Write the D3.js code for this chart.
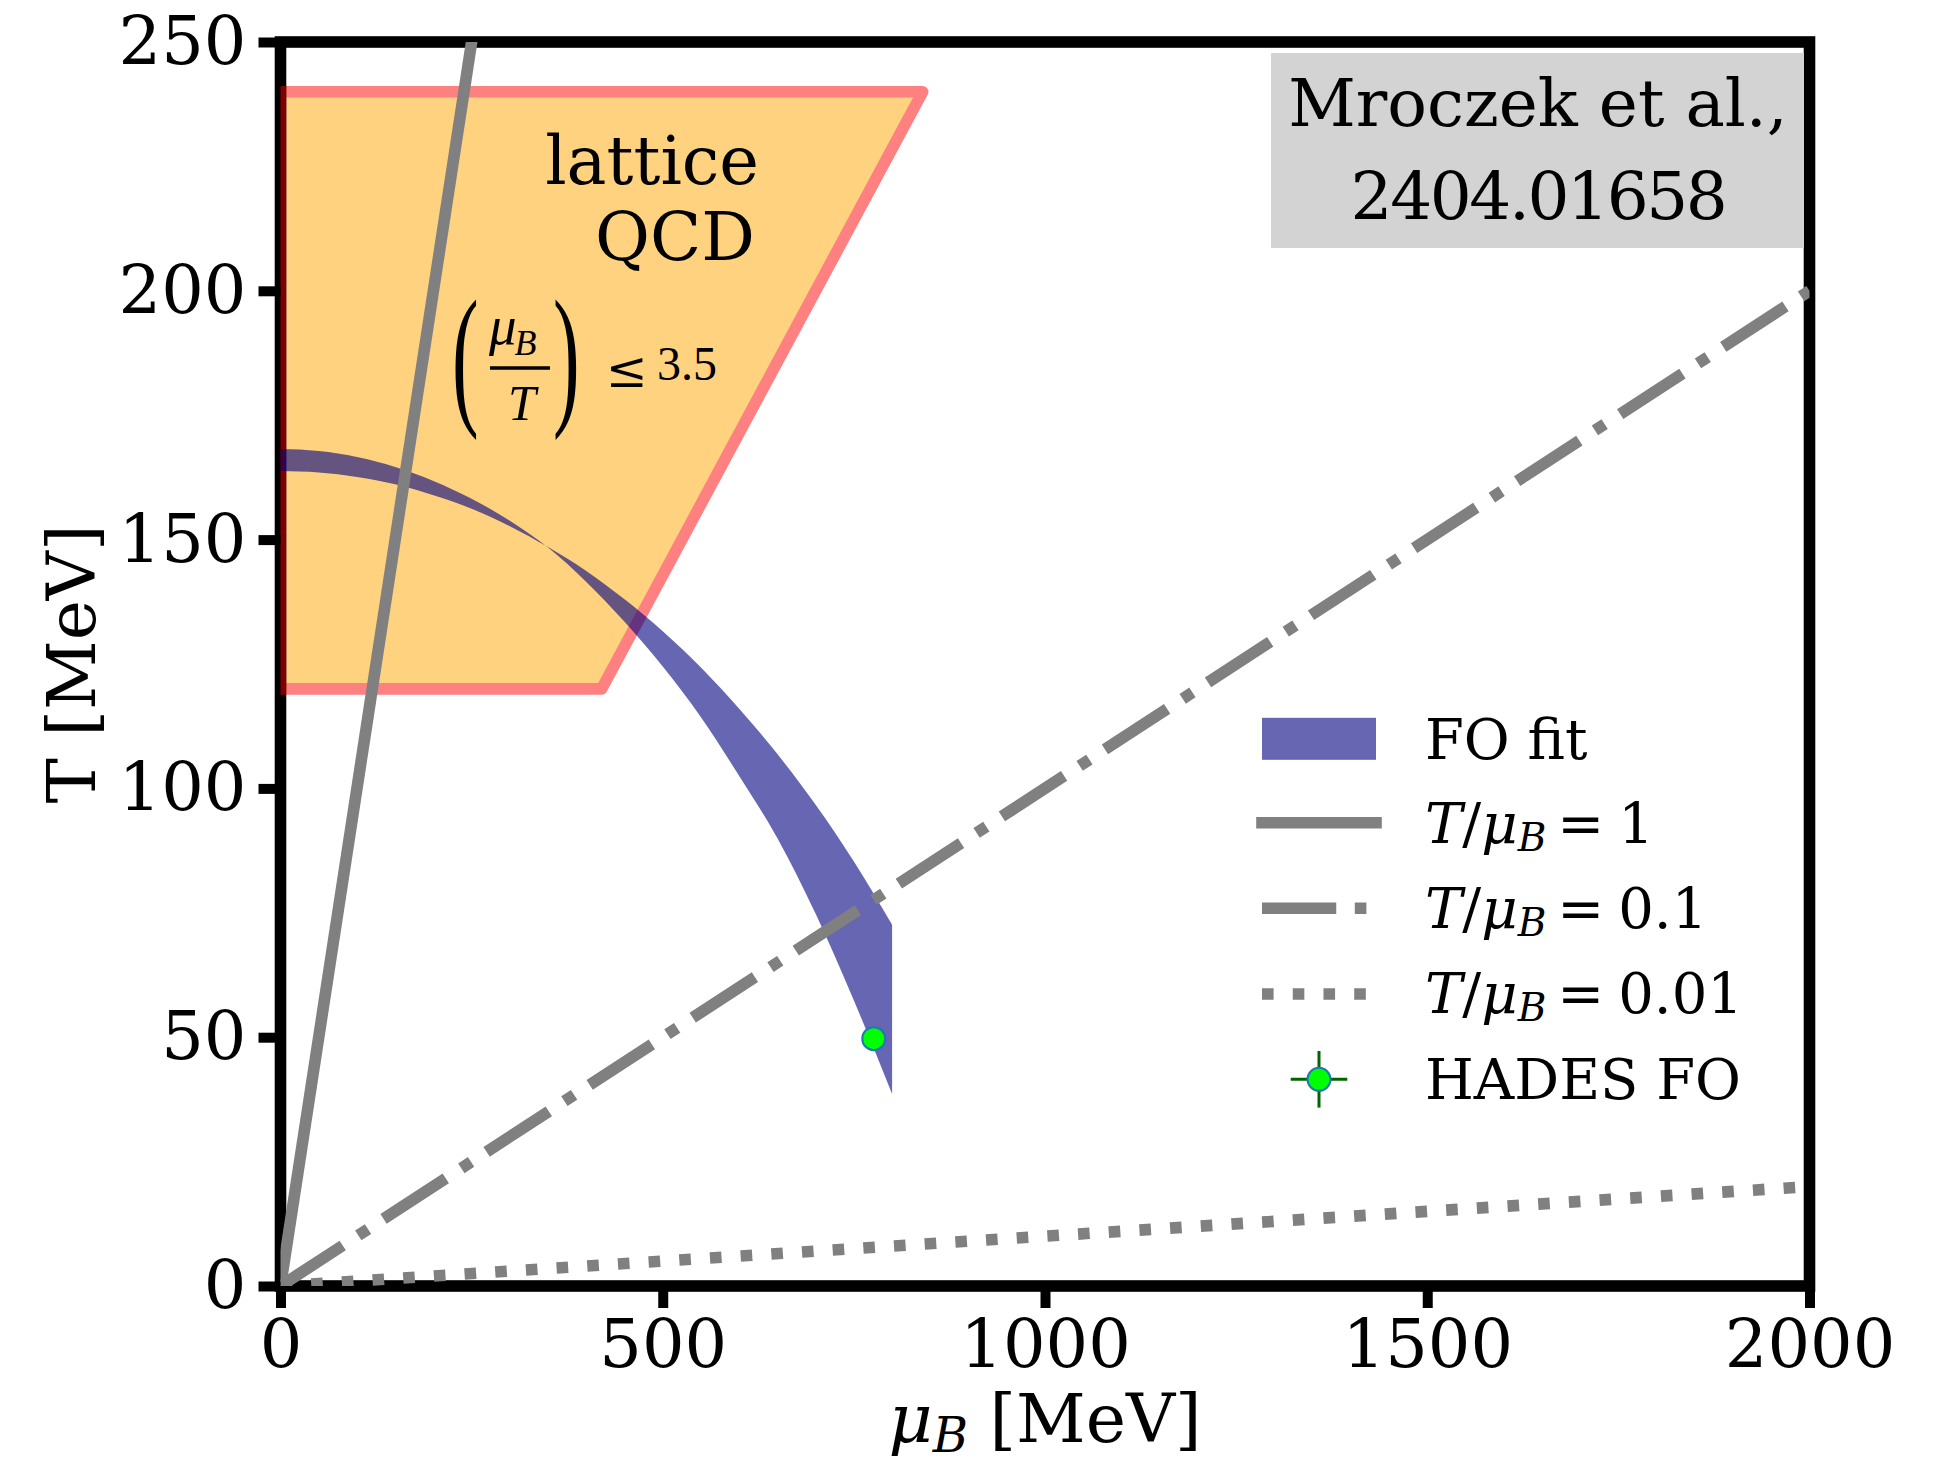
<!DOCTYPE html>
<html>
<head>
<meta charset="utf-8">
<script src="https://cdn.jsdelivr.net/npm/d3@7"></script>
<style>
  body { margin: 0; background: #fff; }
  svg { display: block; }
</style>
</head>
<body>
<script>
// ---- data ----------------------------------------------------------
const xTicks = [0, 500, 1000, 1500, 2000];
const yTicks = [0, 50, 100, 150, 200, 250];

// lattice QCD reach, mu_B/T <= 3.5 for 120 < T < 240 MeV
const latticeMu = [0, 420, 840, 0];
const latticeT  = [120, 120, 240, 240];

// chemical freeze-out fit band: two edge curves on a common mu_B grid
const fitMu    = [0, 50, 100, 150, 200, 250, 300, 350, 400, 450, 500, 550, 600, 650, 700, 750, 800];
const fitEdgeA = [168.2, 167.8, 166.6, 164.6, 161.8, 158.2, 153.8, 148.4, 141.5, 133.5, 124.5, 114.3, 102.5, 90.0, 74.8, 57.4, 38.6];
const fitEdgeB = [163.8, 163.5, 162.6, 161.1, 158.9, 156.2, 152.7, 148.5, 143.7, 138.0, 131.6, 124.3, 116.0, 106.9, 96.7, 85.3, 72.6];

// constant T/mu_B reference lines
const ratioValues = [1, 0.1, 0.01];
const ratioLabels = ["1", "0.1", "0.01"];
const ratioMuRange = [0, 2000];

// HADES freeze-out point
const hadesMu = [776];
const hadesT = [49.7];
const hadesMuErr = [3];
const hadesTErr = [1.1];

// ---- layout --------------------------------------------------------
const W = 1946, H = 1458;
const plotL = 280.5, plotR = 1809.5, plotT = 42, plotB = 1286;
const LW = 11.6;
const gray = "#808080";
const serif = "'DejaVu Serif', serif";
const times = "'Liberation Serif', 'Times New Roman', serif";

const x = d3.scaleLinear().domain([0, 2000]).range([plotL, plotR]);
const y = d3.scaleLinear().domain([0, 250]).range([plotB, plotT]);

const svg = d3.select("body").append("svg")
  .attr("width", W).attr("height", H)
  .attr("viewBox", `0 0 ${W} ${H}`);

svg.append("rect").attr("width", W).attr("height", H).attr("fill", "#fff");

const defs = svg.append("defs");
defs.append("clipPath").attr("id", "plotClip")
  .append("rect").attr("x", plotL).attr("y", plotT)
  .attr("width", plotR - plotL).attr("height", plotB - plotT);
defs.append("clipPath").attr("id", "spineClip")
  .append("rect").attr("x", plotL).attr("y", plotT)
  .attr("width", LW / 2).attr("height", plotB - plotT);

const under = svg.append("g").attr("clip-path", "url(#plotClip)");
const latticePts = latticeMu.map((m, i) => [x(m), y(latticeT[i])]);
const latticeStr = latticePts.map(p => p.join(",")).join(" ");

// lattice region
under.append("polygon")
  .attr("points", latticeStr)
  .attr("fill", "#ffd280")
  .attr("stroke", "#ff8080")
  .attr("stroke-width", LW)
  .attr("stroke-linejoin", "round");

// frame
svg.append("rect")
  .attr("x", plotL).attr("y", plotT)
  .attr("width", plotR - plotL).attr("height", plotB - plotT)
  .attr("fill", "none").attr("stroke", "#000")
  .attr("stroke-width", LW).attr("stroke-linejoin", "miter");

// lattice outline where it runs over the left spine
svg.append("g").attr("clip-path", "url(#spineClip)")
  .append("polygon")
  .attr("points", latticeStr)
  .attr("fill", "none")
  .attr("stroke", "rgba(255,0,0,0.5)")
  .attr("stroke-width", LW)
  .attr("stroke-linejoin", "round");

const over = svg.append("g").attr("clip-path", "url(#plotClip)");

// label box
svg.append("rect")
  .attr("x", 1271).attr("y", 53).attr("width", 533).attr("height", 195)
  .attr("fill", "#d3d3d3");
const box = svg.append("text")
  .attr("font-family", serif).attr("font-size", 66)
  .attr("text-anchor", "middle").attr("fill", "#000");
box.append("tspan").attr("x", 1538).attr("y", 126).text("Mroczek et al.,");
box.append("tspan").attr("x", 1538).attr("y", 219).attr("letter-spacing", -2.4).text("2404.01658");

// freeze-out band
const band = d3.area()
  .x((d, i) => x(fitMu[i]))
  .y0((d, i) => y(fitEdgeA[i]))
  .y1((d, i) => y(fitEdgeB[i]))
  .curve(d3.curveMonotoneX);
over.append("path")
  .attr("d", band(fitMu))
  .attr("fill", "navy").attr("fill-opacity", 0.6);

// T/mu_B lines
const ratioDash = [null, `${6.4 * LW},${1.6 * LW},${1.0 * LW},${1.6 * LW}`, `${1.0 * LW},${1.65 * LW}`];
const line = d3.line().x(d => x(d[0])).y(d => y(d[1]));
ratioValues.forEach((r, i) => {
  const pts = ratioMuRange.map(m => [m, r * m]);
  over.append("path")
    .attr("d", line(pts))
    .attr("fill", "none")
    .attr("stroke", gray)
    .attr("stroke-width", LW)
    .attr("stroke-linecap", "butt")
    .attr("stroke-dasharray", ratioDash[i]);
});

// HADES point with error bars
function hadesMarker(g, cx, cy, ex0, ex1, ey0, ey1) {
  g.append("line").attr("x1", ex0).attr("x2", ex1).attr("y1", cy).attr("y2", cy)
    .attr("stroke", "#006400").attr("stroke-width", 3);
  g.append("line").attr("x1", cx).attr("x2", cx).attr("y1", ey0).attr("y2", ey1)
    .attr("stroke", "#006400").attr("stroke-width", 3);
  g.append("circle").attr("cx", cx).attr("cy", cy).attr("r", 11.5)
    .attr("fill", "#00ff00").attr("stroke", "#1f77b4").attr("stroke-width", 2);
}
hadesMu.forEach((m, i) => {
  hadesMarker(over, x(m), y(hadesT[i]),
    x(m - hadesMuErr[i]), x(m + hadesMuErr[i]),
    y(hadesT[i] - hadesTErr[i]), y(hadesT[i] + hadesTErr[i]));
});

// ---- axes ----------------------------------------------------------
const xAxis = svg.append("g").attr("transform", `translate(0,${plotB})`)
  .call(d3.axisBottom(x).tickValues(xTicks).tickSize(22).tickPadding(11).tickFormat(d3.format("d")));
const yAxis = svg.append("g").attr("transform", `translate(${plotL},0)`)
  .call(d3.axisLeft(y).tickValues(yTicks).tickSize(22).tickPadding(12).tickFormat(d3.format("d")));
[xAxis, yAxis].forEach(a => {
  a.select(".domain").remove();
  a.selectAll(".tick line").attr("stroke", "#000").attr("stroke-width", 10);
  a.selectAll(".tick text").attr("font-family", serif).attr("font-size", 67).attr("fill", "#000");
});

// axis titles
const xl = svg.append("text")
  .attr("x", 1045).attr("y", 1442)
  .attr("text-anchor", "middle")
  .attr("font-family", serif).attr("font-size", 68).attr("fill", "#000");
xl.append("tspan").attr("font-style", "italic").text("μ");
xl.append("tspan").attr("font-style", "italic").attr("font-size", 48).attr("dy", 10).text("B");
xl.append("tspan").attr("dy", -10).text(" [MeV]");

svg.append("text")
  .attr("transform", "translate(95,664) rotate(-90)")
  .attr("text-anchor", "middle")
  .attr("font-family", serif).attr("font-size", 68).attr("fill", "#000")
  .text("T [MeV]");

// ---- lattice annotation -------------------------------------------
svg.append("text").attr("x", 759).attr("y", 184).attr("text-anchor", "end")
  .attr("font-family", serif).attr("font-size", 67).text("lattice");
svg.append("text").attr("x", 755).attr("y", 260).attr("text-anchor", "end")
  .attr("font-family", serif).attr("font-size", 67).text("QCD");

const f = svg.append("g").attr("font-family", times).attr("fill", "#000");
f.append("text").attr("transform", "translate(452,407) scale(1,1.93)")
  .attr("font-size", 80).text("(");
f.append("text").attr("transform", "translate(553,407) scale(1,1.93)")
  .attr("font-size", 80).text(")");
const num = f.append("text").attr("x", 489).attr("y", 344)
  .attr("font-size", 55).attr("font-style", "italic");
num.append("tspan").text("μ");
num.append("tspan").attr("font-size", 36).attr("dy", 11).attr("dx", -2).text("B");
f.append("line").attr("x1", 490).attr("x2", 550).attr("y1", 368).attr("y2", 368)
  .attr("stroke", "#000").attr("stroke-width", 3.5);
f.append("text").attr("x", 522).attr("y", 420).attr("text-anchor", "middle")
  .attr("font-size", 50).attr("font-style", "italic").text("T");
f.append("text").attr("x", 606).attr("y", 387).attr("font-family", serif)
  .attr("font-size", 50).text("≤");
f.append("text").attr("x", 657).attr("y", 380).attr("font-size", 48).text("3.5");

// ---- legend --------------------------------------------------------
const lg = svg.append("g");
const hx0 = 1262, hx1 = 1376, tx = 1425;
const rowY = [738.8, 822.7, 908.3, 994, 1079.3];
const textY = [759.3, 842.7, 928.3, 1013.3, 1099];

lg.append("rect").attr("x", hx0).attr("y", rowY[0] - 21).attr("width", hx1 - hx0).attr("height", 42)
  .attr("fill", "navy").attr("fill-opacity", 0.6);
lg.append("text").attr("x", tx).attr("y", textY[0])
  .attr("font-family", serif).attr("font-size", 56).text("FO fit");

ratioValues.forEach((r, i) => {
  const yy = rowY[i + 1];
  lg.append("line").attr("x1", hx0).attr("x2", hx1).attr("y1", yy).attr("y2", yy)
    .attr("stroke", gray).attr("stroke-width", LW)
    .attr("stroke-linecap", i === 0 ? "square" : "butt")
    .attr("stroke-dasharray", ratioDash[i]);
  const t = lg.append("text").attr("x", tx).attr("y", textY[i + 1])
    .attr("font-family", serif).attr("font-size", 56);
  t.append("tspan").attr("font-style", "italic").text("T");
  t.append("tspan").text("/");
  t.append("tspan").attr("font-style", "italic").text("μ");
  t.append("tspan").attr("font-style", "italic").attr("font-size", 39).attr("dy", 8).text("B");
  t.append("tspan").attr("dy", -8).attr("dx", 11).text("=");
  t.append("tspan").attr("dx", 14).text(ratioLabels[i]);
});

const hx = (hx0 + hx1) / 2;
hadesMarker(lg, hx, rowY[4], hx - 28.3, hx + 28.3, rowY[4] - 28.3, rowY[4] + 28.3);
lg.append("text").attr("x", tx).attr("y", textY[4])
  .attr("font-family", serif).attr("font-size", 56).text("HADES FO");
</script>
</body>
</html>
